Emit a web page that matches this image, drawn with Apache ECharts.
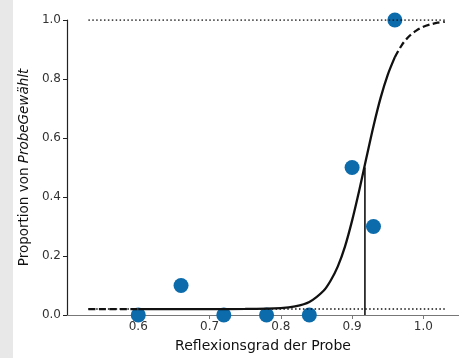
<!DOCTYPE html>
<html><head><meta charset="utf-8">
<script src="https://cdn.jsdelivr.net/npm/echarts@6/dist/echarts.min.js"></script>
<style>html,body{margin:0;padding:0;background:#fff}#c{width:459px;height:358px}</style>
</head><body><div id="c"></div>
<script>
// observed data points
const obsX = [0.60, 0.66, 0.72, 0.78, 0.84, 0.90, 0.93, 0.96];
const obsY = [0.00, 0.10, 0.00, 0.00, 0.00, 0.50, 0.30, 1.00];
// fitted curve
const curveLowX = [0.53, 0.56, 0.60];
const curveLowY = [0.02, 0.02, 0.02];
const curveMidX = [0.60, 0.65, 0.70, 0.75, 0.80, 0.82, 0.84, 0.86, 0.87, 0.88, 0.89, 0.90, 0.91, 0.918, 0.92, 0.93, 0.94, 0.95, 0.96];
const curveMidY = [0.02, 0.02, 0.02, 0.0205, 0.0235, 0.029, 0.044, 0.082, 0.117, 0.165, 0.232, 0.32, 0.422, 0.51, 0.532, 0.64, 0.736, 0.814, 0.874];
const curveHighX = [0.96, 0.97, 0.98, 0.99, 1.00, 1.01, 1.02, 1.03];
const curveHighY = [0.874, 0.916, 0.945, 0.964, 0.977, 0.985, 0.991, 0.994];
// reference lines
const guideX = [0.53, 1.03];
const upperAsym = 1.0;
const lowerAsym = 0.02;
const threshX = 0.918;
const threshY = 0.5;
const xTicks = [0.6, 0.7, 0.8, 0.9, 1.0];

const zip = (a, b) => a.map((v, i) => [v, b[i]]);
const chart = echarts.init(document.getElementById('c'));
const txt = '#333';
chart.setOption({
  animation: false,
  graphic: [{type: 'rect', left: 0, top: 0, shape: {width: 13, height: 358}, style: {fill: '#e8e8e8'}, z: -10}],
  grid: {left: 67, top: 20, width: 392, height: 295, outerBoundsMode: 'none', containLabel: false},
  xAxis: {
    type: 'value', min: 0.5, max: 1.05, interval: 0.1,
    axisLine: {show: true, onZero: false, lineStyle: {color: '#777', width: 1.2}},
    axisTick: {show: true, length: 4, lineStyle: {color: '#777'}, customValues: xTicks},
    splitLine: {show: false},
    axisLabel: {color: txt, fontSize: 12, fontFamily: 'DejaVu Sans', margin: 6,
      customValues: xTicks, formatter: v => v.toFixed(1)},
    name: 'Reflexionsgrad der Probe', nameLocation: 'middle', nameGap: 24,
    nameTextStyle: {color: '#111', fontSize: 14, fontFamily: 'DejaVu Sans'}
  },
  yAxis: {
    type: 'value', min: 0, max: 1, interval: 0.2,
    axisLine: {show: true, lineStyle: {color: '#222', width: 1.2}},
    axisTick: {show: true, length: 4, lineStyle: {color: '#222'}},
    splitLine: {show: false},
    axisLabel: {color: txt, fontSize: 12, fontFamily: 'DejaVu Sans', margin: 6, formatter: v => v.toFixed(1)},
    name: '{a|Proportion von }{b|ProbeGewählt}', nameLocation: 'middle', nameGap: 32,
    nameTextStyle: {rich: {
      a: {color: '#111', fontSize: 13.5, fontFamily: 'DejaVu Sans'},
      b: {color: '#111', fontSize: 13.5, fontFamily: 'DejaVu Sans', fontStyle: 'italic'}
    }}
  },
  series: [
    {type: 'scatter', data: zip(obsX, obsY), symbolSize: 15, clip: false, z: 2,
      itemStyle: {color: '#0b6bab', opacity: 1}},
    {type: 'line', data: zip(guideX, [upperAsym, upperAsym]), symbol: 'none', z: 3,
      lineStyle: {color: '#111', width: 1.5, type: [1.5, 2.4]}},
    {type: 'line', data: zip(guideX, [lowerAsym, lowerAsym]), symbol: 'none', z: 3,
      lineStyle: {color: '#111', width: 1.5, type: [1.5, 2.4]}},
    {type: 'line', data: zip(curveLowX, curveLowY), symbol: 'none', z: 4,
      lineStyle: {color: '#111', width: 2.3, type: [7, 3.5]}},
    {type: 'line', data: zip(curveMidX, curveMidY), symbol: 'none', smooth: 0.3, z: 4,
      lineStyle: {color: '#111', width: 2.3}},
    {type: 'line', data: zip(curveHighX, curveHighY), symbol: 'none', smooth: 0.3, z: 4,
      lineStyle: {color: '#111', width: 2.3, type: [7, 3.5]}},
    {type: 'line', data: [[threshX, 0], [threshX, threshY]], symbol: 'none', z: 4,
      lineStyle: {color: '#111', width: 1.6}}
  ]
});
</script></body></html>
